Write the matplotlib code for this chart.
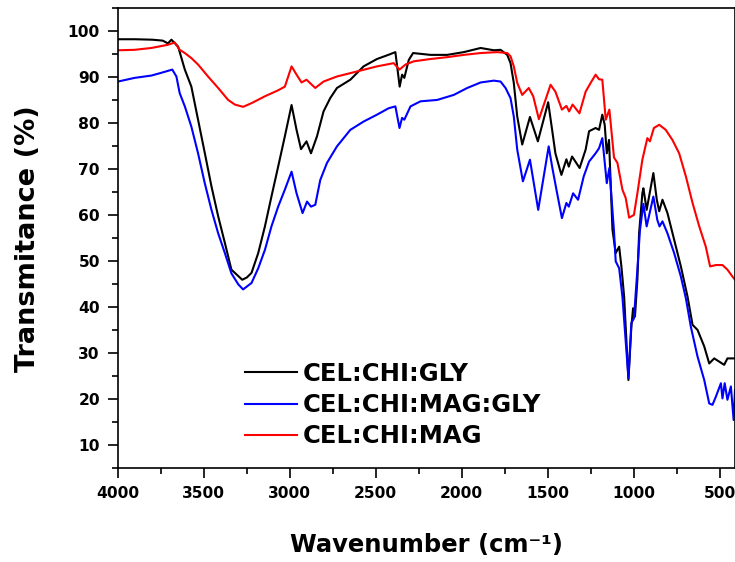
import numpy as np
import matplotlib
matplotlib.use("Agg")
import matplotlib.pyplot as plt
from matplotlib.ticker import MultipleLocator

plt.rcParams['font.family'] = ['DejaVu Sans']
plt.rcParams['font.weight'] = 'bold'

# (wavenumber cm-1, transmittance %)
cel_chi_gly = np.array([
    [4000, 98.3], [3900, 98.3], [3800, 98.2], [3740, 98.0], [3709, 97.4], [3689, 98.2],
    [3650, 96.7], [3611, 91.7], [3573, 88.0], [3534, 80.8], [3495, 73.6], [3456, 66.3],
    [3417, 59.8], [3378, 54.0], [3340, 48.2], [3300, 46.8], [3277, 46.0], [3250, 46.5],
    [3223, 47.5], [3184, 51.8], [3145, 57.6], [3107, 64.1], [3068, 70.6], [3029, 77.2],
    [2990, 84.0], [2961, 78.6], [2935, 74.4], [2903, 76.1], [2877, 73.5], [2842, 77.2],
    [2804, 82.6], [2765, 85.5], [2726, 87.7], [2648, 89.5], [2571, 92.4], [2493, 94.0],
    [2420, 95.0], [2386, 95.5], [2361, 88.0], [2347, 90.6], [2334, 89.9], [2308, 93.8],
    [2283, 95.3], [2182, 94.9], [2085, 94.9], [1988, 95.5], [1890, 96.4], [1813, 95.9],
    [1774, 96.0], [1735, 94.9], [1716, 93.1], [1697, 88.8], [1677, 81.5], [1648, 75.4],
    [1603, 81.4], [1557, 76.1], [1497, 84.6], [1474, 78.6], [1455, 73.5], [1420, 68.8],
    [1391, 72.2], [1377, 70.6], [1358, 72.8], [1314, 70.3], [1279, 74.3], [1259, 78.3],
    [1221, 79.0], [1201, 78.6], [1182, 81.9], [1168, 79.7], [1156, 73.5], [1143, 76.4],
    [1123, 56.9], [1104, 51.8], [1084, 53.2], [1071, 48.9], [1055, 42.3], [1030, 24.2],
    [1013, 35.8], [1003, 39.8], [992, 38.0], [978, 46.0], [968, 56.1], [949, 64.8],
    [943, 65.9], [924, 61.2], [885, 69.2], [865, 63.4], [851, 60.9], [832, 63.4],
    [803, 60.5], [764, 54.7], [725, 48.9], [686, 42.3], [657, 36.2], [628, 35.1],
    [589, 31.5], [560, 27.8], [531, 28.9], [502, 28.2], [473, 27.5], [454, 28.9],
    [415, 28.9],
])

cel_chi_mag_gly = np.array([
    [4000, 89.1], [3903, 89.9], [3806, 90.4], [3748, 91.0], [3684, 91.7], [3660, 90.2],
    [3641, 86.6], [3611, 83.7], [3573, 79.3], [3534, 73.5], [3495, 67.0], [3456, 61.2],
    [3417, 56.1], [3378, 51.8], [3340, 47.4], [3300, 45.0], [3272, 43.9], [3223, 45.3],
    [3184, 48.5], [3145, 52.5], [3107, 57.6], [3068, 61.9], [3029, 65.6], [2990, 69.5],
    [2961, 64.8], [2926, 60.5], [2900, 63.0], [2877, 61.9], [2852, 62.3], [2823, 67.7],
    [2784, 71.4], [2726, 75.0], [2648, 78.6], [2571, 80.4], [2493, 81.9], [2425, 83.3],
    [2386, 83.7], [2362, 79.0], [2347, 81.2], [2334, 80.8], [2298, 83.7], [2240, 84.8],
    [2143, 85.1], [2046, 86.2], [1968, 87.7], [1890, 88.9], [1813, 89.3], [1774, 89.1],
    [1745, 87.7], [1716, 85.5], [1697, 81.5], [1677, 74.3], [1644, 67.4], [1603, 72.1],
    [1555, 61.2], [1494, 75.0], [1474, 70.6], [1449, 65.6], [1417, 59.4], [1391, 62.7],
    [1377, 61.9], [1352, 64.8], [1323, 63.4], [1290, 68.5], [1259, 71.7], [1221, 73.5],
    [1201, 74.6], [1182, 76.8], [1156, 67.0], [1141, 70.3], [1114, 56.5], [1104, 50.0],
    [1084, 48.5], [1065, 42.3], [1030, 24.6], [1013, 36.6], [998, 37.6], [978, 48.2],
    [963, 56.8], [943, 62.5], [924, 57.6], [885, 64.1], [862, 59.0], [849, 57.6],
    [832, 58.7], [803, 56.1], [764, 51.8], [725, 46.7], [696, 42.0], [667, 35.8],
    [628, 29.3], [589, 24.2], [560, 19.1], [541, 18.8], [521, 20.6], [492, 23.5],
    [483, 20.2], [470, 23.5], [454, 19.9], [434, 22.8], [418, 15.5], [410, 22.0],
])

cel_chi_mag = np.array([
    [4000, 95.9], [3903, 96.0], [3806, 96.4], [3709, 97.1], [3670, 97.6], [3641, 96.0],
    [3611, 95.3], [3573, 94.2], [3534, 92.8], [3476, 90.2], [3417, 87.7], [3359, 85.1],
    [3320, 84.1], [3272, 83.6], [3223, 84.4], [3145, 85.9], [3068, 87.2], [3029, 88.0],
    [2990, 92.4], [2961, 90.6], [2932, 88.9], [2903, 89.5], [2852, 87.7], [2804, 89.1],
    [2726, 90.2], [2609, 91.3], [2493, 92.4], [2396, 93.1], [2362, 91.7], [2327, 92.8],
    [2279, 93.5], [2182, 94.0], [2085, 94.4], [1988, 94.9], [1890, 95.3], [1793, 95.5],
    [1735, 95.3], [1716, 94.6], [1697, 92.4], [1677, 88.8], [1648, 86.2], [1610, 87.7],
    [1584, 85.9], [1551, 80.9], [1522, 84.1], [1483, 88.4], [1455, 86.9], [1417, 83.0],
    [1391, 83.8], [1375, 82.6], [1355, 84.1], [1315, 82.2], [1279, 86.9], [1250, 88.8],
    [1221, 90.6], [1201, 89.6], [1182, 89.5], [1162, 80.8], [1141, 83.0], [1114, 72.6],
    [1094, 71.4], [1065, 65.6], [1046, 63.8], [1026, 59.5], [998, 60.1], [978, 64.8],
    [949, 72.1], [920, 76.8], [905, 76.1], [882, 79.0], [851, 79.7], [813, 78.6],
    [774, 76.4], [735, 73.5], [696, 68.5], [657, 62.7], [618, 57.6], [580, 53.2],
    [555, 48.9], [521, 49.2], [483, 49.2], [454, 48.2], [425, 46.7], [410, 46.0],
])

labels = ['CEL:CHI:GLY', 'CEL:CHI:MAG:GLY', 'CEL:CHI:MAG']
colors = ['black', 'blue', 'red']
x_ticks = [4000, 3500, 3000, 2500, 2000, 1500, 1000, 500]
y_ticks = [10, 20, 30, 40, 50, 60, 70, 80, 90, 100]

fig = plt.figure(figsize=(7.35, 5.62), dpi=100)
ax = fig.add_axes([0.1605, 0.1667, 0.8395, 0.8183])

for data, lab, col in zip([cel_chi_gly, cel_chi_mag_gly, cel_chi_mag], labels, colors):
    ax.plot(data[:, 0], data[:, 1], color=col, lw=1.5, label=lab)

ax.set_xlim(4000, 410)
ax.set_ylim(5, 105)
ax.set_xticks(x_ticks)
ax.set_yticks(y_ticks)
ax.xaxis.set_minor_locator(MultipleLocator(250))
ax.yaxis.set_minor_locator(MultipleLocator(5))
ax.tick_params(which='major', direction='out', length=7, width=1.2, labelsize=11.2, pad=6)
ax.tick_params(which='minor', direction='out', length=4, width=1.2)
ax.tick_params(top=False, right=False)
for s in ax.spines.values():
    s.set_linewidth(1.2)

ax.set_xlabel('Wavenumber (cm\u207b\u00b9)', fontsize=17.5, fontweight='bold', labelpad=23)
ax.set_ylabel('Transmitance (%)', fontsize=19.5, fontweight='bold')
ax.yaxis.set_label_coords(-0.125, 0.5)

leg = ax.legend(loc='upper left', bbox_to_anchor=(0.19, 0.2525), frameon=False,
                fontsize=17.5, handlelength=2.14, handletextpad=0.25, labelspacing=0.3,
                borderaxespad=0)
for t in leg.get_texts():
    t.set_fontweight('bold')

fig.savefig('out.png', dpi=100)
